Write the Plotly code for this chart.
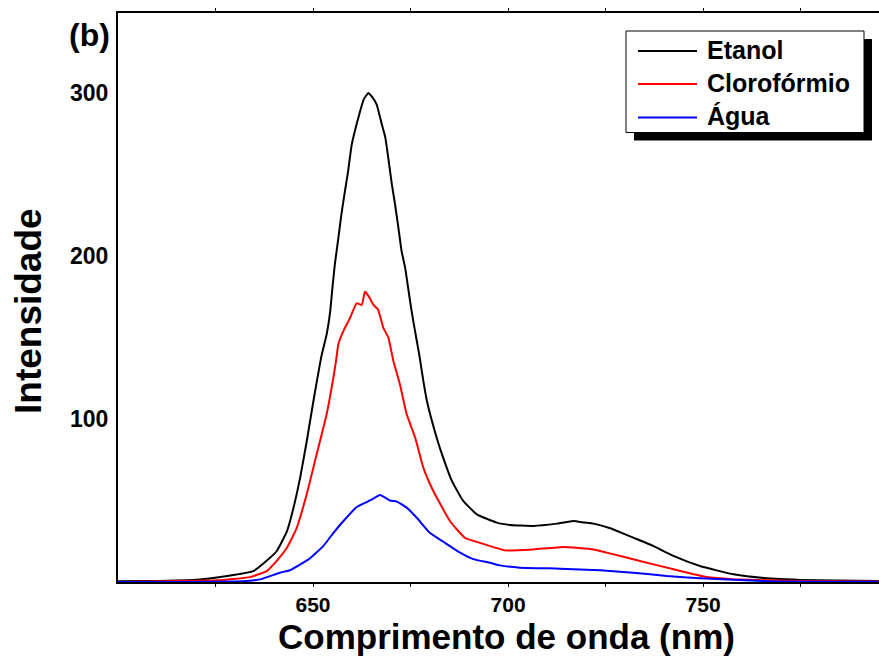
import plotly.graph_objects as go

# Emission spectra (wavelength in nm, intensity in arbitrary units)
etanol_nm = [600, 608, 621, 629.6, 634.7, 638.1, 640.7, 643.3, 645.0, 646.7, 648.4, 650.1,
             652.2, 653.5, 654.4, 655.0, 655.6, 656.5, 657.3, 658.2, 659.0, 659.9, 661.2,
             662.1, 663.0, 664.2, 665.0, 666.3, 667.6, 668.5, 669.3, 670.2, 671.0, 671.9,
             672.7, 673.6, 674.9, 675.7, 676.6, 677.4, 678.3, 679.2, 681.7, 683.4, 685.6,
             688.5, 692.0, 697.1, 700.5, 706.5, 712.5, 716.8, 719.5, 721.9, 726.2, 732.1,
             737.3, 742.4, 749.2, 757.8, 766.3, 779.1, 795.1]
etanol_int = [0.5, 0.6, 1.6, 4.3, 6.7, 13, 19, 31, 45.6, 64, 86.5, 111,
              139, 152, 166, 181, 195, 211, 226, 240, 252, 268, 281,
              289, 296, 300, 298, 293, 281, 273, 260, 244, 232, 217,
              203, 193, 172, 160, 148, 137, 123, 111, 88.5, 76, 62,
              49.7, 41.5, 36.4, 35, 34.4, 35.8, 37.4, 36.5, 35.8, 33, 27.2,
              22, 16, 9.8, 4.7, 2.3, 1.0, 0.6]

cloro_nm = [600, 612.5, 625.3, 633.8, 638.1, 640.7, 643.3, 645.8, 648.4, 650.9, 653.5,
            655.9, 656.5, 657.8, 659.5, 661.2, 662.5, 663.3, 664.2, 665.5, 666.7, 668.0,
            669.3, 670.6, 672.3, 674.0, 676.2, 678.3, 680.8, 685.1, 689.0, 692.8, 699.2,
            706.5, 714.2, 721.9, 725.3, 733.8, 742.4, 750.9, 757.7, 774.9, 795.1]
cloro_int = [0, 0.5, 1, 3, 6.7, 13, 21, 33, 54, 78, 103,
             135.6, 146, 154, 162, 171, 170, 178, 175.5, 170, 167, 156,
             150, 135.6, 121, 103, 88.5, 70, 56, 37.4, 27, 24, 19.4,
             20, 21.5, 20, 18, 12.9, 7.8, 3, 1.7, 0.6, 0.3]

agua_nm = [600, 612, 632, 636.4, 641.5, 644.1, 649.2, 652.6, 655.2, 657.8, 661.2, 664.6,
           667.2, 669.7, 671.5, 674.0, 676.6, 680.0, 683.4, 687.7, 691.1, 695.4, 697.9,
           703.1, 713.3, 723.6, 732.1, 740.7, 749.2, 766.3, 795.0]
agua_int = [0, 0, 0.4, 1.6, 5.7, 7.2, 14.5, 22, 30, 37.4, 46, 50,
            53.4, 50, 49.3, 45.6, 39.4, 30, 24.7, 18, 14, 11.8, 10.2,
            8.8, 8.2, 7.2, 5.7, 3.7, 2.3, 0.5, 0.2]

series_names = ["Etanol", "Clorofórmio", "Água"]
series_colors = ["#000000", "#ff0000", "#0000ff"]
series_x = [etanol_nm, cloro_nm, agua_nm]
series_y = [etanol_int, cloro_int, agua_int]

x_tickvals = [625, 650, 675, 700, 725, 750, 775]
x_ticktext = ["", "650", "", "700", "", "750", ""]
y_tickvals = [100, 200, 300]

W, H = 879, 657
L, T, R, B = 118, 13, 0, 75
PW, PH = W - L - R, H - T - B


def px(x):
    return (x - L) / PW


def py(y):
    return (H - B - y) / PH


FONT = "Liberation Sans, Arial, sans-serif"

fig = go.Figure()
for name, color, xs, ys in zip(series_names, series_colors, series_x, series_y):
    fig.add_trace(go.Scatter(x=xs, y=ys, mode="lines", name=name,
                             line=dict(color=color, width=2, shape="spline", smoothing=0.4),
                             showlegend=False))

fig.update_layout(
    width=W, height=H,
    margin=dict(l=L, r=R, t=T, b=B),
    paper_bgcolor="white", plot_bgcolor="white",
    font=dict(family=FONT, color="black"),
    xaxis=dict(range=[600, 795.1], tickvals=x_tickvals, ticktext=x_ticktext,
               ticks="outside", ticklen=3, tickcolor="black", tickwidth=1,
               showline=True, linecolor="black", linewidth=2, mirror="ticks",
               showgrid=False, zeroline=False,
               tickfont=dict(size=21, family=FONT, weight="bold")),
    yaxis=dict(range=[0, 349], tickvals=y_tickvals, ticks="",
               showline=True, linecolor="black", linewidth=2, mirror=False,
               showgrid=False, zeroline=False, ticklabelstandoff=3,
               tickfont=dict(size=23, family=FONT, weight="bold")),
)

annotations = [
    dict(text="<b>Comprimento de onda (nm)</b>", x=px(506), y=py(636),
         font=dict(size=35)),
    dict(text="<b>Intensidade</b>", x=px(28), y=py(311), textangle=-90,
         font=dict(size=37)),
    dict(text="<b>(b)</b>", x=px(89), y=py(35), font=dict(size=32)),
]
for a in annotations:
    a.update(xref="paper", yref="paper", showarrow=False,
             xanchor="center", yanchor="middle")

# Legend box with drop shadow
shapes = [
    dict(type="rect", x0=px(634), x1=px(872), y0=py(39), y1=py(140.5),
         fillcolor="black", line=dict(width=0)),
    dict(type="rect", x0=px(626), x1=px(864), y0=py(31), y1=py(132.5),
         fillcolor="white", line=dict(color="black", width=1)),
]
row_y = [51, 84, 117.5]
for name, color, ry in zip(series_names, series_colors, row_y):
    shapes.append(dict(type="line", x0=px(638), x1=px(697), y0=py(ry), y1=py(ry),
                       line=dict(color=color, width=2)))
    annotations.append(dict(text=f"<b>{name}</b>", x=px(705), y=py(ry - 1),
                            xref="paper", yref="paper", showarrow=False,
                            xanchor="left", yanchor="middle",
                            font=dict(size=25)))

for s in shapes:
    s.update(xref="paper", yref="paper")

fig.update_layout(shapes=shapes, annotations=annotations)
fig.write_html("out.html")
